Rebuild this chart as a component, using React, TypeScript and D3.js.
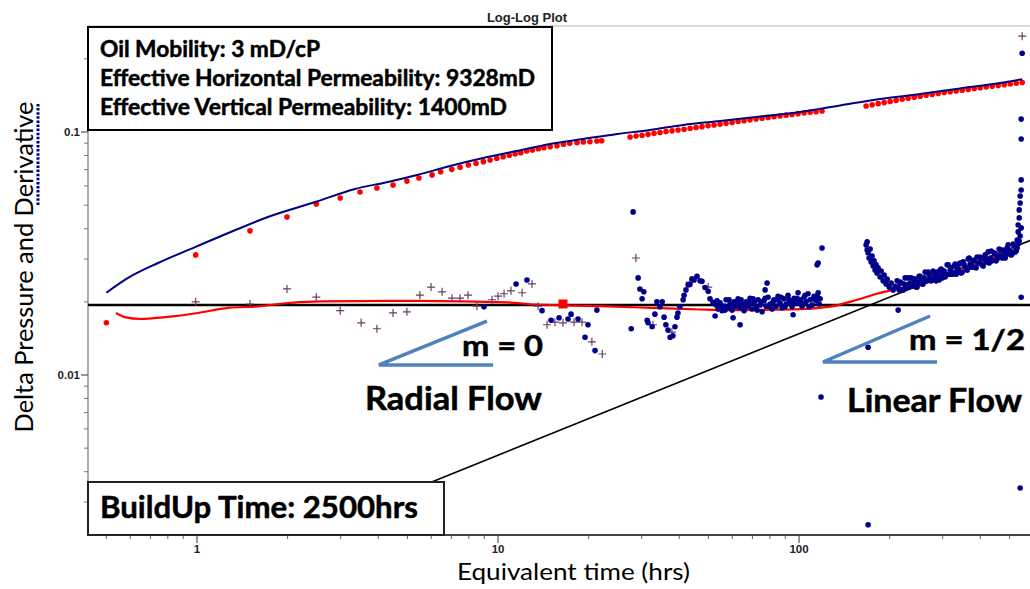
import React from 'react';
import * as d3 from 'd3';

// ---------- axis ticks ----------
const xMajorTicks = [1, 10, 100];
const xMinorTicks = [0.5, 0.6, 0.7, 0.8, 0.9, 2, 3, 4, 5, 6, 7, 8, 9, 20, 30, 40, 50, 60, 70, 80, 90, 200, 300, 400, 500];
const yMajorTicks = [0.01, 0.1];
const yMinorTicks = [0.003, 0.004, 0.005, 0.006, 0.007, 0.008, 0.009, 0.02, 0.03, 0.04, 0.05, 0.06, 0.07, 0.08, 0.09, 0.2];

// ---------- pressure model (blue line) ----------
const pressureModel: [number, number][] = [
  [0.5, 0.0218], [0.59, 0.0251], [0.742, 0.0289], [0.985, 0.0336], [1.27, 0.0384], [1.72, 0.0447],
  [2.47, 0.0515], [3.35, 0.0583], [4.31, 0.0623], [5.38, 0.0665], [6.93, 0.0725], [8.92, 0.0782],
  [11.48, 0.0835], [14.9, 0.0893], [19.2, 0.0936], [24.9, 0.0981], [32.0, 0.1019], [41.2, 0.1069],
  [54.6, 0.111], [74.4, 0.1158], [100.7, 0.1209], [136.8, 0.1286], [185.8, 0.1367], [252.4, 0.1433],
  [342.8, 0.1511], [465.5, 0.159], [551, 0.165],
];

// ---------- pressure data (red dots) ----------
const pressureData: [number, number][] = [
  [0.5, 0.0164], [0.99, 0.0312], [1.5, 0.0392], [1.99, 0.0447], [2.49, 0.0506], [2.99, 0.0535],
  [3.48, 0.0566], [3.96, 0.0588], [4.48, 0.0605], [4.98, 0.0628], [5.46, 0.0647], [6.04, 0.0666],
  [6.45, 0.0686], [7.02, 0.0702], [7.48, 0.0716], [7.97, 0.0731], [8.45, 0.0743], [8.94, 0.0755],
  [9.41, 0.0767], [9.9, 0.078], [10.4, 0.0791], [10.9, 0.0802], [11.4, 0.0812], [11.9, 0.0822],
  [12.45, 0.0835], [13.0, 0.0843], [13.6, 0.0854], [14.2, 0.0862], [14.9, 0.087], [15.7, 0.0878],
  [16.5, 0.089], [17.3, 0.0898], [18.3, 0.0904], [19.2, 0.091], [20.2, 0.0912], [21.3, 0.0918], [22.1, 0.0921],
  // dense band 1
  [27.45, 0.0954], [28.74, 0.0962], [30.09, 0.097], [31.5, 0.0978], [32.98, 0.0987], [34.53, 0.0995],
  [36.15, 0.1004], [37.85, 0.1011], [39.63, 0.1019], [41.49, 0.1027], [43.44, 0.1036], [45.48, 0.1044],
  [47.61, 0.1052], [49.85, 0.106], [52.19, 0.1069], [54.64, 0.1077], [57.21, 0.1086], [59.9, 0.1095],
  [62.71, 0.1104], [65.65, 0.1113], [68.73, 0.1122], [71.96, 0.1131], [75.34, 0.1139], [78.88, 0.1147],
  [82.58, 0.1155], [86.46, 0.1164], [90.52, 0.1173], [94.77, 0.1181], [99.2, 0.119], [103.9, 0.1197],
  [108.8, 0.1205], [113.9, 0.1212], [119.2, 0.122],
  // dense band 2
  [167.0, 0.1279], [174.9, 0.1293], [183.1, 0.1308], [191.7, 0.1321], [200.7, 0.1335], [210.1, 0.1349],
  [220.0, 0.1363], [230.3, 0.1378], [241.2, 0.1391], [252.5, 0.1404], [264.4, 0.1416], [276.8, 0.1428],
  [289.8, 0.144], [303.4, 0.1453], [317.7, 0.1464], [332.6, 0.1475], [348.3, 0.1486], [364.6, 0.1497],
  [381.8, 0.1509], [399.7, 0.152], [418.5, 0.1532], [438.2, 0.1542], [458.8, 0.1554], [480.3, 0.1564],
  [502.9, 0.1576], [526.6, 0.1586], [551.3, 0.1599],
];

// ---------- derivative model (red line) ----------
const derivativeModel: [number, number][] = [
  [0.538, 0.018], [0.576, 0.0173], [0.652, 0.017], [0.783, 0.0173], [1.008, 0.018], [1.268, 0.0189],
  [1.632, 0.0192], [1.858, 0.0196], [2.58, 0.0201], [4.31, 0.0202], [5.4, 0.0202],
  [10.79, 0.0199], [13.27, 0.0195], [21.8, 0.0192], [32.0, 0.0189], [46.9, 0.0186], [55.9, 0.0185],
  [93.3, 0.0186], [126.8, 0.0191], [155.9, 0.0204], [181.6, 0.0216], [211.7, 0.0226], [258.2, 0.0241],
  [335, 0.0271], [431, 0.0303], [522, 0.0336],
];

// ---------- derivative data, early (purple crosses) ----------
const derivativeCross: [number, number][] = [
  [0.99, 0.02], [1.5, 0.0196], [1.99, 0.0226], [2.49, 0.0209], [2.99, 0.0184], [3.51, 0.0164],
  [3.96, 0.0155], [4.48, 0.018], [4.98, 0.0182], [5.5, 0.0213], [5.99, 0.023], [6.52, 0.022],
  [7.03, 0.0207], [7.48, 0.0207], [7.95, 0.0213], [8.51, 0.0192], [9.55, 0.0204], [10.0, 0.0211],
  [10.47, 0.0216], [11.04, 0.0222], [12.02, 0.0218], [12.97, 0.0237], [13.58, 0.0192], [14.55, 0.0161],
  [15.46, 0.0165], [16.44, 0.0164], [17.88, 0.0165], [19.01, 0.0165], [20.5, 0.0137], [22.2, 0.0122],
  [28.7, 0.0303], [32.7, 0.0161], [37.8, 0.015], [43.4, 0.0241], [49.9, 0.023], [551, 0.248],
];

// ---------- derivative data (blue dots) ----------
const derivativeEarly: [number, number][] = [
  [8.98, 0.0191], [11.48, 0.0237], [12.48, 0.0246], [14.0, 0.0184], [15.0, 0.0168], [15.95, 0.0172],
  [17.08, 0.017], [17.48, 0.0178], [18.44, 0.017], [19.45, 0.0143], [19.9, 0.0161], [21.0, 0.0126], [21.3, 0.0185],
  [27.7, 0.0155], [28.1, 0.0469], [29.2, 0.0251], [29.6, 0.0226], [30.1, 0.0206], [30.5, 0.022],
  [31.3, 0.0168], [31.5, 0.0164], [32.5, 0.0158], [33.2, 0.0178], [33.7, 0.02], [34.5, 0.0191],
  [35.1, 0.02], [35.6, 0.0173], [36.1, 0.0161], [36.7, 0.0153], [37.3, 0.0143], [38.1, 0.0145],
  [38.7, 0.0158], [39.3, 0.0173], [39.6, 0.018], [40.2, 0.0191], [41.2, 0.0204], [41.5, 0.0213],
  [42.1, 0.0224], [42.8, 0.0235], [43.4, 0.0236], [44.1, 0.0249], [44.8, 0.0246], [45.8, 0.0255],
  [46.9, 0.0244], [47.6, 0.0243], [48.7, 0.0229], [49.9, 0.0221], [50.6, 0.0206], [51.8, 0.0199], [52.6, 0.0175],
];

const derivativeMiddle: [number, number][] = [
  [53.0, 0.0194], [53.82, 0.0187], [54.65, 0.0198], [55.49, 0.0184], [56.35, 0.0192], [57.22, 0.0204],
  [58.1, 0.0189], [59.0, 0.0196], [59.91, 0.0185], [60.83, 0.02], [61.77, 0.0192], [62.72, 0.0206],
  [63.69, 0.0189], [64.67, 0.0196], [65.67, 0.0184], [66.68, 0.02], [67.71, 0.0192], [68.75, 0.0207],
  [69.81, 0.0187], [70.89, 0.0198], [71.98, 0.0191], [73.09, 0.0204], [74.22, 0.0194], [75.36, 0.0182],
  [76.52, 0.0202], [77.7, 0.0192], [78.9, 0.0209], [80.12, 0.0196], [81.35, 0.0187], [82.61, 0.0204],
  [83.88, 0.0192], [85.17, 0.0211], [86.49, 0.0198], [87.82, 0.0189], [89.17, 0.0206], [90.55, 0.0196],
  [91.94, 0.0213], [93.36, 0.02], [94.8, 0.0191], [96.26, 0.0207], [97.75, 0.0198], [99.25, 0.0218],
  [100.8, 0.0204], [102.3, 0.0192], [103.9, 0.0209], [105.5, 0.02], [107.1, 0.0216], [108.8, 0.0204],
  [110.5, 0.0194], [112.2, 0.0211], [113.9, 0.0202], [115.7, 0.0218], [117.5, 0.0206],
  [53.41, 0.0202], [55.07, 0.0191], [56.78, 0.0185], [58.55, 0.0204], [60.37, 0.0192], [62.24, 0.0198],
  [64.18, 0.0204], [66.17, 0.0191], [68.23, 0.0198], [70.35, 0.0206], [72.53, 0.0185], [74.79, 0.02],
  [77.11, 0.0207], [79.51, 0.0192], [81.97, 0.02], [84.52, 0.0204], [87.15, 0.0209], [89.85, 0.0191],
  [92.65, 0.0204], [95.53, 0.0198], [98.5, 0.0207], [101.6, 0.0198], [104.7, 0.0213], [107.9, 0.0191],
  [111.3, 0.0206], [114.8, 0.0211], [116.6, 0.0196],
  [60.37, 0.0172], [63.69, 0.0161], [78.3, 0.0239], [77.11, 0.0224], [95.53, 0.0177],
  [114.8, 0.0284], [115.7, 0.0289], [119.2, 0.0333], [118.3, 0.00812],
];

const derivativeLate: [number, number][] = [
  [167.0, 0.0343], [168.3, 0.0353], [168.3, 0.0327], [169.6, 0.0318], [170.9, 0.0303], [172.2, 0.033],
  [173.5, 0.0292], [174.8, 0.0309], [176.2, 0.0281], [177.5, 0.0295], [178.9, 0.027], [180.3, 0.0284],
  [181.6, 0.0263], [183.0, 0.0276], [185.9, 0.0253], [187.3, 0.0268], [190.2, 0.0244], [191.7, 0.0258],
  [194.6, 0.0237], [196.1, 0.0248], [199.2, 0.023], [202.2, 0.0239], [205.4, 0.0224], [208.5, 0.0232],
  [213.4, 0.0185], [169.6, 0.013], [169.6, 0.00242],
  [211.7, 0.0244], [215.0, 0.0224], [218.3, 0.0239], [221.7, 0.0224], [225.1, 0.0251], [228.6, 0.0235],
  [232.1, 0.023], [235.7, 0.0251], [239.3, 0.0237], [243.0, 0.0248], [246.7, 0.023], [250.5, 0.0255],
  [254.4, 0.0244], [258.3, 0.0237], [262.3, 0.0265], [266.3, 0.0244], [270.4, 0.0258], [274.6, 0.0244],
  [278.8, 0.0268], [283.1, 0.0253], [287.5, 0.0265], [291.9, 0.0246], [296.4, 0.0273], [301.0, 0.026],
  [305.7, 0.0253], [310.4, 0.0284], [315.2, 0.026], [320.0, 0.0276], [325.0, 0.0263], [330.0, 0.0286],
  [335.1, 0.027], [340.2, 0.0286], [345.5, 0.0263], [350.8, 0.0292], [356.2, 0.0278], [361.7, 0.027],
  [367.3, 0.0303], [372.9, 0.0278], [378.7, 0.0295], [384.5, 0.0278], [390.4, 0.0306], [396.5, 0.0289],
  [402.6, 0.0303], [408.8, 0.0281], [415.1, 0.0312], [421.5, 0.0297], [428.0, 0.0289], [434.6, 0.0324],
  [441.3, 0.0297], [448.1, 0.0315], [455.0, 0.03], [462.1, 0.033], [469.2, 0.0309], [476.4, 0.0327],
  [483.8, 0.0303], [491.3, 0.0333], [498.8, 0.0321], [506.5, 0.0312], [514.3, 0.0346], [522.3, 0.0321],
  [213.4, 0.023], [216.7, 0.0241], [220.0, 0.0224], [223.4, 0.0237], [226.8, 0.023], [230.3, 0.0251],
  [233.9, 0.0239], [237.5, 0.0232], [241.1, 0.0248], [244.8, 0.023], [248.6, 0.0241], [252.4, 0.0255],
  [256.3, 0.0237], [260.3, 0.0251], [264.3, 0.0244], [268.4, 0.0265], [272.5, 0.0253], [276.7, 0.0246],
  [281.0, 0.0263], [285.3, 0.0244], [289.7, 0.0258], [294.2, 0.027], [298.7, 0.0251], [303.3, 0.0268],
  [308.0, 0.0258], [312.8, 0.0284], [317.6, 0.027], [322.5, 0.026], [327.5, 0.0281], [332.5, 0.026],
  [337.6, 0.0273], [342.8, 0.0289], [348.1, 0.0265], [353.5, 0.0284], [358.9, 0.0276], [364.5, 0.03],
  [370.1, 0.0286], [375.8, 0.0278], [381.6, 0.0297], [387.5, 0.0276], [393.4, 0.0289], [399.5, 0.0306],
  [405.7, 0.0284], [411.9, 0.03], [418.3, 0.0292], [424.7, 0.0321], [431.3, 0.0303], [437.9, 0.0295],
  [444.7, 0.0318], [451.6, 0.0295], [458.5, 0.0309], [465.6, 0.0327], [472.8, 0.0303], [480.1, 0.0321],
  [487.5, 0.0312], [495.0, 0.0343], [502.7, 0.0324], [510.4, 0.0315], [518.3, 0.034], [526.3, 0.0324],
  [530.3, 0.0359], [530.3, 0.0333], [534.4, 0.0388], [534.4, 0.0346], [534.4, 0.0414], [538.5, 0.0443],
  [538.5, 0.0356], [538.5, 0.0478], [542.6, 0.051], [542.6, 0.0373], [542.6, 0.0545], [546.8, 0.0577],
  [546.8, 0.0403], [546.8, 0.0635],
  [551.0, 0.211], [546.8, 0.113], [546.8, 0.0936], [546.8, 0.0209], [542.6, 0.00343],
];

// ---------- reference lines & annotations ----------
const radialLevel = 0.0194;
const linearAnchor: [number, number] = [172.2, 0.0194];
const linearSlope = 0.5;
const matchPoint: [number, number] = [16.44, 0.0196];
const slopeTriangleRadial: [number, number][] = [[9.19, 0.01668], [4.02, 0.011], [9.63, 0.011]];
const slopeTriangleLinear: [number, number][] = [[272.4, 0.01749], [120.1, 0.01131], [287.4, 0.01131]];
const infoLines = ['Oil Mobility: 3 mD/cP', 'Effective Horizontal Permeability: 9328mD', 'Effective Vertical Permeability: 1400mD'];
const infoWidths = [220, 435, 407];

const W = 1030;
const H = 589;
const L = 88, R = 1030, T = 26, B = 535;

export default function App() {
  const x = d3.scaleLog().domain([0.4344, 585]).range([L, R]);
  const y = d3.scaleLog().domain([0.002196, 0.273]).range([B, T]);
  const line = d3.line<[number, number]>().x(d => x(d[0])).y(d => y(d[1])).curve(d3.curveMonotoneX);
  const poly = d3.line<[number, number]>().x(d => x(d[0])).y(d => y(d[1]));
  const linStart = 0.4344, linEnd = 585;
  const linVal = (t: number) => linearAnchor[1] * Math.pow(t / linearAnchor[0], linearSlope);
  const blue = '#00008b';
  const bold = { fontFamily: 'Lato, "Open Sans", sans-serif', fontWeight: 700 } as const;
  const heavy = { stroke: '#000', strokeWidth: 0.5 };

  return (
    <svg width={W} height={H} style={{ position: 'fixed', left: 0, top: 0, background: '#fff' }}>
      <rect x={0} y={0} width={W} height={H} fill="#fff" />
      <defs>
        <clipPath id="plot"><rect x={L} y={T} width={R - L} height={B - T} /></clipPath>
      </defs>
      <text x={527} y={22} textAnchor="middle" fontFamily="'Liberation Sans', Arial, sans-serif" fontWeight={700} fontSize={13} fill="#222">Log-Log Plot</text>
      <line x1={L} x2={R} y1={T} y2={T} stroke="#cfcfcf" strokeWidth={1.5} />

      {/* axes */}
      <line x1={L} x2={L} y1={T} y2={B} stroke="#777" strokeWidth={1.2} />
      {yMinorTicks.map(v => <line key={'ym' + v} x1={L - 4} x2={L} y1={y(v)} y2={y(v)} stroke="#777" strokeWidth={1} />)}
      {yMajorTicks.map(v => (
        <g key={'yM' + v}>
          <line x1={L - 7} x2={L} y1={y(v)} y2={y(v)} stroke="#555" strokeWidth={1.2} />
          <text x={L - 8} y={y(v) + 4} textAnchor="end" fontFamily="'Liberation Sans', Arial, sans-serif" fontWeight={700} fontSize={11.5} fill="#222">{v}</text>
        </g>
      ))}
      {xMinorTicks.map(v => <line key={'xm' + v} x1={x(v)} x2={x(v)} y1={B} y2={B + 4} stroke="#666" strokeWidth={1} />)}
      {xMajorTicks.map(v => (
        <g key={'xM' + v}>
          <line x1={x(v)} x2={x(v)} y1={B} y2={B + 8} stroke="#555" strokeWidth={1.2} />
          <text x={x(v)} y={553} textAnchor="middle" fontFamily="'Liberation Sans', Arial, sans-serif" fontWeight={700} fontSize={11.5} fill="#222">{v}</text>
        </g>
      ))}
      <line x1={L} x2={R} y1={B} y2={B} stroke="#444" strokeWidth={2} />

      <g clipPath="url(#plot)">
        {/* straight-line reference */}
        <line x1={L} x2={R} y1={y(radialLevel)} y2={y(radialLevel)} stroke="#000" strokeWidth={2.5} />
        <line x1={x(linStart)} x2={x(linEnd)} y1={y(linVal(linStart))} y2={y(linVal(linEnd))} stroke="#000" strokeWidth={1.6} />

        {/* derivative model */}
        <path d={line(derivativeModel) || ''} fill="none" stroke="#ff0000" strokeWidth={2.2} />

        {/* derivative data */}
        {derivativeCross.map((d, i) => (
          <path key={'c' + i} d={`M${x(d[0]) - 4},${y(d[1])}h8M${x(d[0])},${y(d[1]) - 4}v8`} stroke="#6a3d6a" strokeWidth={1.2} fill="none" />
        ))}
        {[...derivativeEarly, ...derivativeMiddle, ...derivativeLate].map((d, i) => (
          <circle key={'b' + i} cx={x(d[0])} cy={y(d[1])} r={2.8} fill={blue} />
        ))}

        {/* pressure */}
        {pressureData.map((d, i) => (
          <circle key={'r' + i} cx={x(d[0])} cy={y(d[1])} r={2.8} fill="#ff0000" />
        ))}
        <path d={line(pressureModel) || ''} fill="none" stroke="#000080" strokeWidth={2} />

        <rect x={x(matchPoint[0]) - 4.5} y={y(matchPoint[1]) - 4.5} width={9} height={9} fill="#ff0000" />

        {/* slope triangles */}
        <path d={poly(slopeTriangleRadial) || ''} fill="none" stroke="#4f81bd" strokeWidth={3.5} />
        <path d={poly(slopeTriangleLinear) || ''} fill="none" stroke="#4f81bd" strokeWidth={3.5} />
      </g>

      {/* info box */}
      <rect x={L} y={27} width={464} height={103} fill="#fff" stroke="#000" strokeWidth={2} />
      {infoLines.map((s, i) => (
        <text key={s} x={100} y={57 + i * 29} fontSize={22.5} textLength={infoWidths[i]} lengthAdjust="spacingAndGlyphs" fill="#000" style={bold} {...heavy}>{s}</text>
      ))}

      {/* buildup box */}
      <rect x={L} y={482} width={356} height={53} fill="#fff" stroke="#222" strokeWidth={2} />
      <text x={100} y={518} fontSize={30} textLength={318} lengthAdjust="spacingAndGlyphs" fill="#000" style={bold} {...heavy}>BuildUp Time: 2500hrs</text>

      {/* annotations */}
      <text x={462} y={356} fontSize={28} textLength={81} lengthAdjust="spacingAndGlyphs" fill="#000" style={bold} {...heavy}>m = 0</text>
      <text x={909} y={350} fontSize={28} textLength={116} lengthAdjust="spacingAndGlyphs" fill="#000" style={bold} {...heavy}>m = 1/2</text>
      <text x={365} y={410} fontSize={32} textLength={177} lengthAdjust="spacingAndGlyphs" fill="#000" style={bold} {...heavy}>Radial Flow</text>
      <text x={847} y={412} fontSize={32} textLength={175} lengthAdjust="spacingAndGlyphs" fill="#000" style={bold} {...heavy}>Linear Flow</text>

      {/* axis titles */}
      <text transform="translate(33,267) rotate(-90)" textAnchor="middle" fontFamily='Lato, "Open Sans", sans-serif' fontSize={25} textLength={331} lengthAdjust="spacingAndGlyphs" fill="#000">Delta Pressure and Derivative</text>
      <line x1={38} x2={38} y1={104} y2={205} stroke={blue} strokeWidth={3} strokeDasharray="2.5,1.6" />
      <text x={457} y={580} fontFamily='Lato, "Open Sans", sans-serif' fontSize={23.5} textLength={233} lengthAdjust="spacingAndGlyphs" fill="#000">Equivalent time (hrs)</text>
    </svg>
  );
}
